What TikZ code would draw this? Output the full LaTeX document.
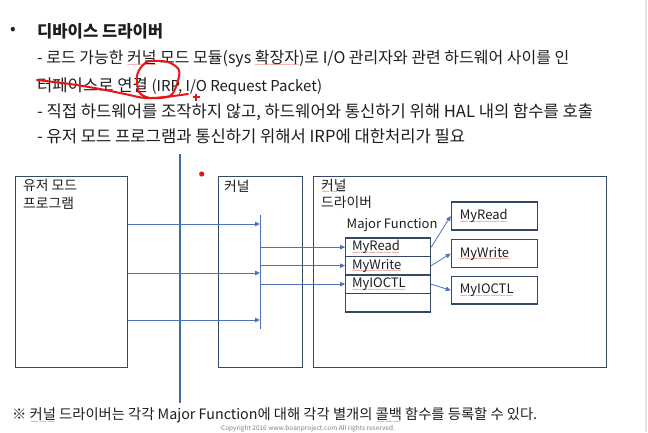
\documentclass[tikz,border=0pt]{standalone}
\usepackage{fontspec}
\setmainfont{Noto Sans CJK KR}
\usetikzlibrary{arrows.meta}
\definecolor{ink}{RGB}{30,30,30}
\definecolor{boxc}{RGB}{52,72,104}
\definecolor{arrc}{RGB}{79,114,186}
\definecolor{midc}{RGB}{62,106,170}
\definecolor{pen}{RGB}{235,20,20}
\definecolor{sq}{RGB}{220,40,40}
\definecolor{edgec}{RGB}{228,228,228}
\newcommand\rw[1]{\setbox0\hbox{#1}\leavevmode\rlap{\raisebox{-1.6pt}[0pt][0pt]{\hbox to \wd0{\color{sq}\fontsize{7}{7}\selectfont\xleaders\hbox{﹏}\hfil}}}\box0\relax}
\begin{document}
\begin{tikzpicture}[x=1pt,y=-1pt,
  txt/.style={inner sep=0pt, anchor=west, text=ink, font=\fontsize{16.6}{19}\selectfont},
  dtxt/.style={inner sep=0pt, anchor=west, text=ink, font=\fontsize{13.8}{16}\selectfont},
  box/.style={draw=boxc, line width=1.4pt, inner sep=0pt, anchor=north west},
  rowbox/.style={box, line width=1.2pt, minimum width=85pt, minimum height=18.5pt, text width=72pt, inner xsep=6.5pt, align=left, text=ink, font=\fontsize{13}{15}\selectfont},
  fnbox/.style={box, minimum width=86pt, minimum height=28pt, text width=69pt, inner xsep=8.5pt, align=left, text=ink, font=\fontsize{13}{15}\selectfont},
  arr/.style={draw=arrc, line width=0.8pt, -{Triangle[length=5pt,width=4.5pt]}},
  ln/.style={draw=arrc, line width=0.8pt},
  midline/.style={draw=midc, line width=2pt},
  redpen/.style={draw=pen, line width=2pt, line cap=round, line join=round}]
\fill[white] (0,0) rectangle (648,432);
\useasboundingbox (0,0) rectangle (648,432);
\draw[draw=edgec, line width=2pt] (645.5,0) -- (645.5,432);

% header text
\node[txt] (bul) at (10,31) {•};
\node[txt, font=\fontsize{16.6}{19}\bfseries] (title) at (37,31) {디바이스 드라이버};
\node[txt, font=\fontsize{16}{19}\selectfont] (l1) at (37,58.3) {- 로드 가능한 \rw{커널} 모드 모듈(sys \rw{확장자})로 I/O 관리자와 관련 하드웨어 사이를 인};
\node[txt] (l2) at (37,86) {터페이스로 연결 {\fontsize{15}{18}\selectfont(IRP, I/O Request Packet)}};
\node[txt] (l3) at (37,111.7) {- 직접 하드웨어를 조작하지 않고, 하드웨어와 통신하기 위해 HAL 내의 함수를 호출};
\node[txt] (l4) at (37,136.7) {- 유저 모드 프로그램과 통신하기 위해서 IRP에 대한처리가 필요};

% red hand annotations
\draw[redpen] plot[smooth] coordinates {(37,80) (70,84) (100,89) (125,94) (145,98) (165,97) (188,94)};
\draw[redpen] plot[smooth cycle] coordinates {(150,61) (168,62) (179,70) (177,84) (170,96) (150,98) (139,92) (137,76) (142,66)};
\draw[draw=pen, line width=1.2pt] (192.5,97) -- (199.5,97) (196,93.5) -- (196,100.5);
\fill[pen] (201.7,174) circle (2.6pt);

% centre line
\coordinate (ctop) at (180,154);
\coordinate (cbot) at (180,403);
\draw[midline] (ctop) -- (cbot);

% boxes
\node[box, minimum width=112pt, minimum height=191pt] (user) at (15,176) {};
\node[dtxt] (userl1) at (23,185) {유저 모드};
\node[dtxt] (userl2) at (23,203) {프로그램};
\node[box, minimum width=84pt, minimum height=191pt] (kern) at (218,176) {};
\node[dtxt] (kernl) at (224,186) {커널};
\node[box, minimum width=293pt, minimum height=191pt] (drv) at (313,176) {};
\node[dtxt] (drvl1) at (321,185) {\rw{커널}};
\node[dtxt] (drvl2) at (321,202) {드라이버};
\node[dtxt, font=\fontsize{13}{15}\selectfont] (mfl) at (346.5,225) {Major Function};

% major function table
\node[rowbox] (r1) at (345,237.3) {\rw{MyRead}};
\node[rowbox] (r2) at (345,255.8) {\rw{MyWrite}};
\node[rowbox] (r3) at (345,274.3) {\rw{MyIOCTL}};
\node[rowbox] (r4) at (345,292.8) {};

% callback boxes
\node[fnbox] (f1) at (450.7,201.3) {\rw{MyRead}};
\node[fnbox, minimum height=27.7pt] (f2) at (450.7,239) {\rw{MyWrite}};
\node[fnbox, minimum height=27.3pt] (f3) at (450.7,276) {\rw{MyIOCTL}};

% dispatch bar
\coordinate (btop) at (260,215);
\coordinate (bbot) at (260,329);
\draw[ln] (btop) -- (bbot);
\coordinate (a1) at (260,224);
\coordinate (a2) at (260,273);
\coordinate (a3) at (260,320);
\draw[arr] (user.east |- a1) -- (a1);
\draw[arr] (user.east |- a2) -- (a2);
\draw[arr] (user.east |- a3) -- (a3);
\draw[arr] (btop |- r1.west) -- (r1.west);
\draw[arr] (btop |- r2.west) -- (r2.west);
\draw[arr] (btop |- r3.west) -- (r3.west);
\draw[arr] (r1.east) -- (f1.west);
\draw[arr] (r2.east) -- (f2.west);
\draw[arr] (r3.east) -- (f3.west);

% footnote
\node[dtxt, font=\fontsize{14.3}{17}\selectfont] (note) at (12,415.7) {※ \rw{커널} 드라이버는 각각 Major Function에 대해 각각 별개의 \rw{콜백} 함수를 등록할 수 있다.};
\node[inner sep=0pt, text=gray, font=\fontsize{6.5}{7}\selectfont] (copy) at (308,428.6) {Copyright 2016 www.boanproject.com All rights reserved.};
\end{tikzpicture}
\end{document}
